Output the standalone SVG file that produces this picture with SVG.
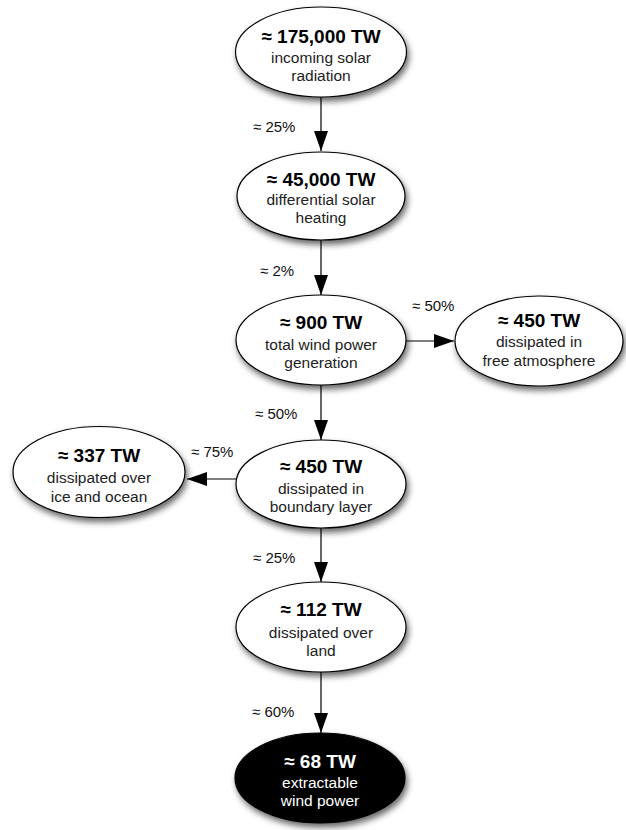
<svg xmlns="http://www.w3.org/2000/svg" width="626" height="830" viewBox="0 0 626 830">
<style>
.node ellipse{fill:#fff;stroke:#000;stroke-width:1.2;filter:url(#sh)}
.node.dark ellipse{fill:#000}
.t{font-family:"Liberation Sans",Arial,Helvetica,sans-serif;text-anchor:middle;fill:#000}
.h{font-size:19px;font-weight:bold}
.s{font-size:15.5px;fill:#222}
.dark .t{fill:#fff}
.lbl{font-family:"Liberation Sans",Arial,Helvetica,sans-serif;font-size:15px;fill:#111}
.edges line{stroke:#000;stroke-width:1.2;marker-end:url(#arr)}
</style>
<defs>
<filter id="sh" x="-20%" y="-20%" width="140%" height="150%">
<feDropShadow dx="2" dy="4" stdDeviation="3" flood-color="#000" flood-opacity="0.6"/>
</filter>
<marker id="arr" markerWidth="20" markerHeight="14" refX="20" refY="7" orient="auto" markerUnits="userSpaceOnUse">
<path d="M0,0 L20,7 L0,14 z" fill="#000"/>
</marker>
</defs>
<rect width="626" height="830" fill="#fff"/>
<g id="edges" class="edges">
<line x1="321" y1="97" x2="321" y2="151"/>
<line x1="321" y1="240" x2="321" y2="295"/>
<line x1="406" y1="341" x2="454" y2="341"/>
<line x1="321" y1="385" x2="321" y2="440"/>
<line x1="237" y1="479" x2="187" y2="479"/>
<line x1="321" y1="528" x2="321" y2="582"/>
<line x1="321" y1="672" x2="321" y2="733"/>
</g>
<g id="labels">
<text class="lbl" x="253" y="132">≈ 25%</text>
<text class="lbl" x="260" y="276">≈ 2%</text>
<text class="lbl" x="412" y="311">≈ 50%</text>
<text class="lbl" x="255" y="419">≈ 50%</text>
<text class="lbl" x="191" y="457">≈ 75%</text>
<text class="lbl" x="253" y="563">≈ 25%</text>
<text class="lbl" x="252" y="717">≈ 60%</text>
</g>
<g id="n1" class="node">
<ellipse cx="321" cy="52" rx="85.5" ry="45"/>
<text class="t h" x="321" y="43">≈ 175,000 TW</text>
<text class="t s" x="321" y="63">incoming solar</text>
<text class="t s" x="321" y="81">radiation</text>
</g>
<g id="n2" class="node">
<ellipse cx="321" cy="196" rx="84" ry="44"/>
<text class="t h" x="321" y="186">≈ 45,000 TW</text>
<text class="t s" x="321" y="205">differential solar</text>
<text class="t s" x="321" y="223">heating</text>
</g>
<g id="n3" class="node">
<ellipse cx="321" cy="340" rx="85" ry="45"/>
<text class="t h" x="321" y="329">≈ 900 TW</text>
<text class="t s" x="321" y="350">total wind power</text>
<text class="t s" x="321" y="368">generation</text>
</g>
<g id="n4" class="node">
<ellipse cx="539" cy="341" rx="84" ry="45"/>
<text class="t h" x="539" y="327">≈ 450 TW</text>
<text class="t s" x="539" y="347">dissipated in</text>
<text class="t s" x="539" y="366">free atmosphere</text>
</g>
<g id="n5" class="node">
<ellipse cx="321" cy="484" rx="85" ry="44"/>
<text class="t h" x="321" y="473">≈ 450 TW</text>
<text class="t s" x="321" y="494">dissipated in</text>
<text class="t s" x="321" y="512">boundary layer</text>
</g>
<g id="n6" class="node">
<ellipse cx="99" cy="472" rx="86" ry="45.5"/>
<text class="t h" x="99" y="462">≈ 337 TW</text>
<text class="t s" x="99" y="483">dissipated over</text>
<text class="t s" x="99" y="502">ice and ocean</text>
</g>
<g id="n7" class="node">
<ellipse cx="321" cy="627" rx="85" ry="45"/>
<text class="t h" x="321" y="616">≈ 112 TW</text>
<text class="t s" x="321" y="638">dissipated over</text>
<text class="t s" x="321" y="656">land</text>
</g>
<g id="n8" class="node dark">
<ellipse cx="320" cy="778" rx="85" ry="45"/>
<text class="t h" x="320" y="768">≈ 68 TW</text>
<text class="t s" x="320" y="788">extractable</text>
<text class="t s" x="320" y="806">wind power</text>
</g>
</svg>
